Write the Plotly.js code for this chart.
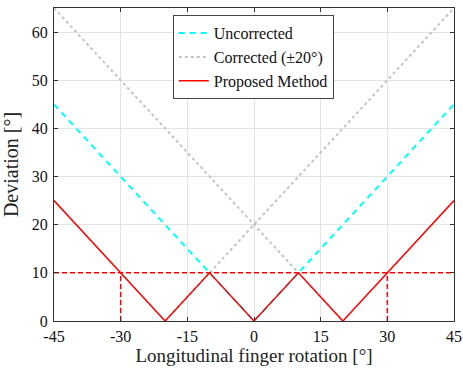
<!DOCTYPE html>
<html><head><meta charset="utf-8">
<script src="https://cdn.plot.ly/plotly-3.0.1.min.js"></script>
<style>html,body{margin:0;padding:0;background:#fff}</style>
</head><body><div id="chart" style="width:463px;height:368px"></div>
<script>
const uncorrX = [-45, 0, 45];
const uncorrY = [45, 0, 45];
const corrX = [-45, 20, null, -20, 45];
const corrY = [65, 0, null, 0, 65];
const propX = [-45, -20, -10, 0, 10, 20, 45];
const propY = [25, 0, 10, 0, 10, 0, 25];
const thrX = [-45, 45, null, -30, -30, null, 30, 30];
const thrY = [10, 10, null, 0, 10, null, 0, 10];
const xTicks = [-45, -30, -15, 0, 15, 30, 45];
const yTicks = [0, 10, 20, 30, 40, 50, 60];

const font = "'Liberation Serif', 'DejaVu Serif', serif";
const data = [
  {x: uncorrX, y: uncorrY, mode: 'lines', name: 'Uncorrected',
   line: {color: '#00ffff', width: 2, dash: '6px,5px'}},
  {x: corrX, y: corrY, mode: 'lines', name: 'Corrected (±20°)',
   line: {color: '#c4c4c4', width: 2, dash: 'dot'}, connectgaps: false},
  {x: propX, y: propY, mode: 'lines', name: 'Proposed Method',
   line: {color: '#ff0000', width: 1.5}},
  {x: thrX, y: thrY, mode: 'lines', showlegend: false,
   line: {color: '#ff0000', width: 1.5, dash: '5px,3px'}, connectgaps: false}
];
const layout = {
  width: 463, height: 368,
  margin: {l: 54, r: 9, t: 8, b: 47},
  paper_bgcolor: '#fff', plot_bgcolor: '#fff',
  font: {family: font, size: 17, color: '#111'},
  showlegend: true,
  legend: {x: 0.297, y: 0.977, xanchor: 'left', yanchor: 'top',
    bgcolor: '#fff', bordercolor: '#444', borderwidth: 1,
    font: {family: font, size: 16, color: '#111'},
    tracegroupgap: 0, itemwidth: 30},
  xaxis: {range: [-45, 45], tickvals: xTicks, ticktext: xTicks.map(String),
    ticks: 'inside', ticklen: 4, tickcolor: '#333', showgrid: true,
    gridcolor: '#e3e3e3', zeroline: false, showline: true, linecolor: '#333',
    linewidth: 1, mirror: 'ticks', ticklabelstandoff: 1,
    tickfont: {family: font, size: 16, color: '#111'},
    title: {text: 'Longitudinal finger rotation [°]', font: {family: font, size: 19, color: '#222'}, standoff: 3}},
  yaxis: {range: [0, 65], tickvals: yTicks,
    ticks: 'inside', ticklen: 4, tickcolor: '#333', showgrid: true,
    gridcolor: '#e3e3e3', zeroline: false, showline: true, linecolor: '#333',
    linewidth: 1, mirror: 'ticks', ticklabelstandoff: 2,
    tickfont: {family: font, size: 16, color: '#111'},
    title: {text: 'Deviation [°]', font: {family: font, size: 20, color: '#222'}, standoff: 8}}
};
Plotly.newPlot('chart', data, layout, {staticPlot: true, displayModeBar: false});
</script></body></html>
